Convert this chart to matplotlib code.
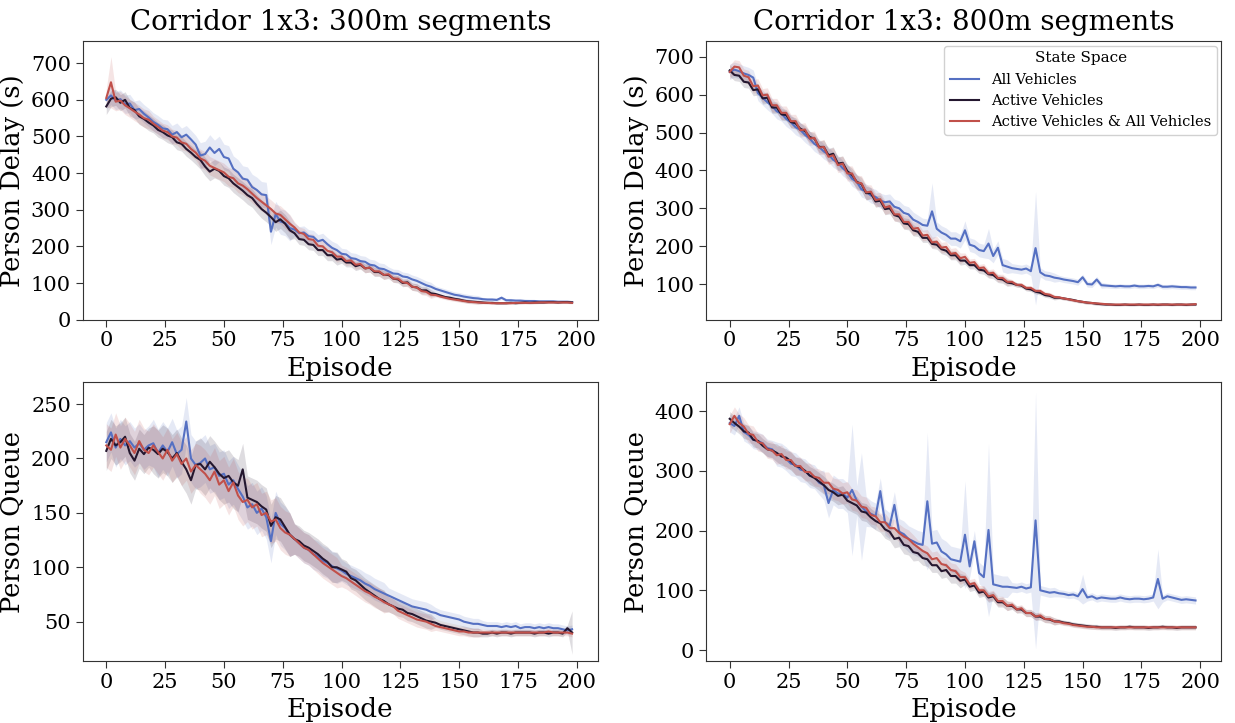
import matplotlib
matplotlib.use("Agg")
import matplotlib.pyplot as plt
from matplotlib.ticker import MultipleLocator
import numpy as np

# episodes (every other episode)
episodes = np.arange(0, 200, 2)

series_names = ["All Vehicles", "Active Vehicles", "Active Vehicles & All Vehicles"]
colors = ["#5570c2", "#24172f", "#c1504a"]

titles = ["Corridor 1x3: 300m segments", "Corridor 1x3: 800m segments"]
ylabels = ["Person Delay (s)", "Person Queue"]

# -- panel (0,0): person delay, 300m -----------------------------------------
delay300_all = [
    600, 612, 598, 602, 588, 590, 572, 575, 562, 552,
    540, 532, 522, 520, 505, 512, 498, 505, 492, 478,
    448, 452, 470, 455, 466, 444, 440, 412, 402, 385,
    382, 362, 354, 342, 340, 240, 288, 268, 264, 250,
    246, 236, 238, 228, 226, 214, 218, 206, 196, 190,
    180, 178, 168, 166, 160, 158, 150, 148, 140, 138,
    132, 126, 125, 118, 116, 110, 106, 100, 94, 90,
    84, 80, 76, 72, 68, 66, 63, 61, 59, 58,
    56, 55, 55, 54, 60, 53, 53, 52, 52, 51,
    51, 51, 50, 50, 50, 50, 49, 49, 49, 48,
]
delay300_active = [
    582, 603, 607, 592, 600, 578, 572, 555, 548, 538,
    530, 518, 512, 503, 498, 484, 480, 466, 456, 444,
    436, 418, 404, 412, 406, 392, 386, 372, 362, 352,
    340, 332, 316, 302, 292, 280, 266, 274, 262, 244,
    236, 220, 218, 206, 204, 190, 190, 176, 176, 164,
    166, 156, 156, 146, 150, 140, 142, 130, 130, 122,
    122, 112, 110, 100, 102, 90, 88, 80, 80, 72,
    70, 66, 62, 60, 57, 55, 52, 50, 49, 48,
    47, 46, 46, 45, 45, 45, 46, 45, 46, 47,
    46, 47, 47, 47, 48, 48, 47, 48, 48, 47,
]
delay300_both = [
    605, 648, 595, 598, 585, 577, 568, 560, 550, 546,
    535, 526, 516, 512, 500, 497, 484, 480, 466, 456,
    440, 434, 420, 414, 408, 402, 390, 386, 372, 366,
    356, 344, 332, 322, 312, 302, 290, 286, 274, 262,
    252, 238, 234, 220, 218, 202, 200, 188, 184, 172,
    172, 160, 162, 150, 152, 140, 142, 132, 132, 122,
    124, 112, 112, 102, 100, 90, 88, 78, 76, 68,
    67, 63, 60, 57, 55, 53, 51, 49, 48, 47,
    46, 46, 45, 45, 45, 45, 45, 46, 46, 46,
    46, 46, 47, 47, 47, 47, 47, 47, 47, 46,
]

# -- panel (0,1): person delay, 800m -----------------------------------------
delay800_all = [
    660, 666, 662, 656, 652, 645, 604, 592, 580, 570,
    556, 550, 536, 527, 514, 507, 494, 484, 470, 462,
    450, 442, 428, 420, 406, 396, 378, 370, 350, 344,
    334, 330, 320, 316, 318, 304, 300, 288, 284, 270,
    264, 256, 254, 292, 246, 236, 230, 220, 220, 213,
    242, 204, 200, 190, 187, 207, 174, 196, 150, 146,
    142, 140, 138, 141, 134, 195, 131, 123, 121, 117,
    115, 112, 110, 108, 105, 118, 100, 99, 112, 97,
    96, 95, 94, 95, 94, 94, 96, 94, 94, 95,
    94, 98, 93, 93, 94, 93, 92, 92, 91, 91,
]
delay800_active = [
    664, 652, 650, 634, 632, 612, 614, 590, 592, 566,
    566, 548, 546, 528, 524, 510, 504, 488, 484, 462,
    462, 440, 444, 418, 420, 398, 388, 370, 364, 340,
    340, 318, 320, 298, 300, 282, 278, 260, 258, 242,
    238, 222, 222, 206, 204, 192, 188, 176, 176, 162,
    162, 150, 150, 138, 136, 126, 124, 114, 112, 104,
    102, 98, 96, 88, 86, 80, 77, 71, 69, 64,
    64, 62, 60, 58, 55, 53, 51, 50, 48, 47,
    46, 46, 45, 45, 46, 45, 45, 46, 45, 45,
    46, 45, 46, 46, 45, 46, 46, 45, 46, 46,
]
delay800_both = [
    660, 674, 672, 650, 646, 622, 624, 598, 600, 572,
    572, 552, 552, 530, 530, 506, 508, 484, 486, 460,
    462, 436, 440, 414, 418, 392, 392, 368, 366, 342,
    344, 322, 324, 302, 306, 284, 284, 264, 264, 246,
    248, 228, 230, 210, 212, 196, 198, 180, 182, 168,
    172, 156, 158, 142, 144, 128, 130, 116, 116, 106,
    106, 98, 98, 90, 90, 82, 82, 74, 72, 66,
    65, 62, 60, 57, 55, 53, 51, 50, 49, 48,
    47, 46, 46, 46, 46, 46, 46, 46, 46, 46,
    46, 46, 46, 46, 46, 46, 46, 46, 46, 47,
]

# -- panel (1,0): person queue, 300m -----------------------------------------
queue300_all = [
    215, 224, 210, 218, 212, 216, 210, 214, 208, 212,
    214, 205, 212, 206, 215, 204, 208, 234, 200, 194,
    196, 200, 190, 192, 184, 186, 176, 180, 172, 165,
    155, 158, 150, 154, 146, 124, 150, 140, 136, 130,
    126, 122, 118, 116, 112, 110, 106, 104, 101, 99,
    97, 94, 92, 90, 88, 85, 83, 80, 78, 76,
    74, 72, 70, 68, 66, 64, 63, 62, 61, 59,
    58, 56, 55, 54, 53, 52, 50, 49, 48, 48,
    47, 46, 46, 46, 45, 46, 45, 46, 44, 45,
    45, 44, 45, 44, 45, 44, 44, 43, 42, 43,
]
queue300_active = [
    207, 218, 212, 215, 220, 205, 198, 209, 204, 210,
    208, 204, 209, 206, 200, 205, 197, 190, 180, 194,
    195, 190, 197, 192, 186, 182, 184, 178, 175, 190,
    164, 162, 160, 156, 153, 138, 146, 144, 137, 130,
    126, 124, 120, 118, 115, 112, 108, 105, 100, 100,
    98, 96, 90, 88, 84, 80, 77, 74, 71, 69,
    66, 64, 62, 61, 58, 57, 55, 53, 51, 50,
    49, 47, 46, 45, 44, 43, 42, 41, 40, 40,
    39, 39, 40, 39, 40, 40, 39, 40, 40, 40,
    40, 39, 40, 40, 39, 40, 40, 39, 44, 40,
]
queue300_both = [
    212, 208, 222, 210, 218, 212, 205, 216, 208, 205,
    212, 206, 200, 208, 198, 204, 195, 200, 188, 194,
    190, 186, 180, 188, 176, 180, 170, 178, 166, 160,
    162, 155, 158, 148, 150, 142, 144, 136, 132, 130,
    126, 122, 118, 116, 112, 108, 104, 101, 98, 95,
    92, 90, 87, 84, 81, 78, 76, 73, 71, 68,
    66, 64, 60, 58, 56, 54, 52, 51, 50, 48,
    46, 45, 44, 43, 42, 41, 41, 40, 40, 40,
    40, 40, 40, 40, 40, 40, 40, 40, 40, 40,
    40, 40, 40, 40, 41, 40, 40, 40, 40, 39,
]

# -- panel (1,1): person queue, 800m -----------------------------------------
queue800_all = [
    380, 375, 392, 365, 360, 352, 350, 346, 338, 336,
    328, 326, 320, 312, 310, 302, 300, 292, 290, 280,
    276, 246, 268, 262, 262, 255, 268, 250, 240, 232,
    228, 224, 266, 214, 208, 243, 198, 194, 186, 182,
    178, 176, 249, 178, 180, 165, 160, 152, 150, 148,
    193, 140, 182, 129, 122, 201, 110, 108, 106, 106,
    105, 104, 106, 103, 105, 217, 100, 98, 96, 97,
    95, 94, 92, 93, 90, 102, 88, 90, 86, 88,
    87, 86, 86, 88, 86, 85, 86, 86, 85, 86,
    88, 119, 86, 90, 88, 86, 84, 85, 84, 83,
]
queue800_active = [
    387, 380, 374, 366, 364, 352, 350, 342, 336, 334,
    330, 324, 322, 316, 308, 306, 300, 292, 288, 282,
    276, 268, 264, 258, 260, 250, 246, 242, 232, 230,
    222, 216, 212, 202, 198, 186, 188, 176, 174, 164,
    162, 154, 152, 142, 142, 132, 134, 124, 124, 116,
    118, 106, 108, 96, 98, 88, 90, 80, 80, 74,
    74, 68, 68, 62, 62, 56, 56, 52, 51, 48,
    48, 46, 45, 43, 42, 41, 40, 39, 39, 38,
    38, 38, 37, 38, 38, 39, 38, 38, 38, 37,
    38, 38, 39, 38, 38, 37, 38, 38, 38, 38,
]
queue800_both = [
    378, 392, 380, 374, 362, 360, 348, 346, 336, 334,
    326, 328, 318, 318, 308, 308, 298, 298, 290, 288,
    280, 280, 270, 268, 262, 264, 252, 250, 240, 238,
    226, 224, 214, 214, 204, 204, 196, 190, 186, 178,
    172, 166, 162, 152, 154, 144, 142, 134, 132, 122,
    122, 110, 112, 100, 100, 90, 92, 82, 82, 74,
    76, 68, 70, 62, 62, 56, 58, 52, 52, 48,
    47, 45, 44, 42, 41, 40, 39, 39, 38, 38,
    38, 38, 38, 38, 38, 38, 38, 38, 38, 38,
    38, 38, 38, 38, 38, 38, 38, 38, 38, 38,
]

# band half-widths, one value per 20-episode block, plus a few single spikes
delay300_bands = [[25, 25, 35, 35, 18, 15, 12, 8, 5, 4],
                  [22, 20, 25, 25, 15, 12, 10, 5, 3, 3],
                  [25, 20, 25, 25, 15, 12, 10, 5, 3, 3]]
delay300_spikes = [{}, {}, {1: 70}]
delay800_bands = [[20, 20, 20, 20, 18, 18, 12, 8, 6, 6],
                  [15, 15, 18, 15, 12, 10, 6, 4, 3, 3],
                  [18, 18, 20, 18, 14, 10, 6, 4, 3, 3]]
delay800_spikes = [{43: 75, 50: 25, 55: 40, 65: 150}, {}, {}]
queue300_bands = [[18, 22, 22, 20, 14, 10, 7, 5, 4, 4],
                  [18, 22, 24, 20, 14, 10, 7, 4, 3, 3],
                  [20, 20, 22, 20, 14, 10, 7, 4, 3, 3]]
queue300_spikes = [{}, {99: 20}, {}]
queue800_bands = [[15, 20, 25, 22, 22, 18, 8, 6, 6, 6],
                  [12, 15, 15, 15, 12, 8, 6, 4, 4, 4],
                  [15, 15, 18, 15, 12, 8, 6, 4, 4, 4]]
queue800_spikes = [{26: 110, 28: 90, 42: 115, 50: 90, 55: 145, 65: 215, 75: 25, 91: 50},
                   {}, {}]

panels = [
    (0, 0, [delay300_all, delay300_active, delay300_both], delay300_bands, delay300_spikes, (0, 760), 100),
    (0, 1, [delay800_all, delay800_active, delay800_both], delay800_bands, delay800_spikes, (6, 741), 100),
    (1, 0, [queue300_all, queue300_active, queue300_both], queue300_bands, queue300_spikes, (14, 270), 50),
    (1, 1, [queue800_all, queue800_active, queue800_both], queue800_bands, queue800_spikes, (-18, 448), 100),
]

plt.rcParams["font.family"] = ["DejaVu Serif"]
fig, axes = plt.subplots(2, 2, figsize=(12.35, 7.23), dpi=100)
fig.subplots_adjust(left=0.067, right=0.989, bottom=0.086, top=0.943,
                    wspace=0.21, hspace=0.225)

for row, col, ys, bands, spikes, ylim, ystep in panels:
    ax = axes[row, col]
    for y, band, spk, c, name in zip(ys, bands, spikes, colors, series_names):
        y = np.asarray(y, dtype=float)
        hw = np.repeat(np.asarray(band, dtype=float), 10)
        for i, w in spk.items():
            hw[i] = w
        ax.fill_between(episodes, y - hw, y + hw, color=c, alpha=0.15, lw=0)
        ax.plot(episodes, y, color=c, lw=1.5, label=name)
    ax.set_xlim(-10, 209)
    ax.set_ylim(*ylim)
    ax.set_xticks(np.arange(0, 201, 25))
    ax.yaxis.set_major_locator(MultipleLocator(ystep))
    ax.tick_params(labelsize=15, direction="out", length=5, color="#333333")
    for s in ax.spines.values():
        s.set_color("#333333")
    ax.set_xlabel("Episode", fontsize=19)
    ax.set_ylabel(ylabels[row], fontsize=18.5)
    if row == 0:
        ax.set_title(titles[col], fontsize=20, pad=8)

axes[0, 1].legend(title="State Space", fontsize=10.5, title_fontsize=11,
                  loc="upper right", borderaxespad=0.3, framealpha=0.9)

fig.savefig("out.png", dpi=100)
